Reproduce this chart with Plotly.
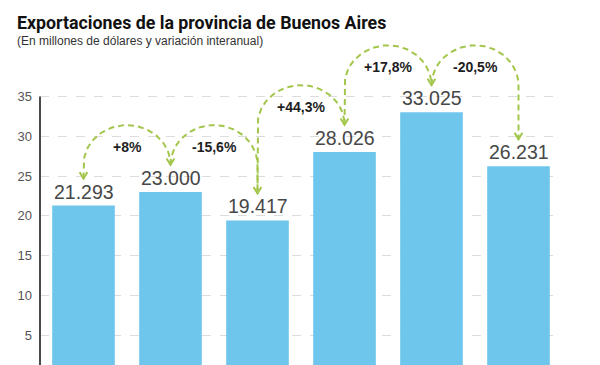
import plotly.graph_objects as go
import numpy as np

# ---- data ----
categories = ["2004", "2005", "2006", "2007", "2008", "2009"]
values = [21.293, 23.000, 19.417, 28.026, 33.025, 26.231]
value_labels = ["21.293", "23.000", "19.417", "28.026", "33.025", "26.231"]
change_labels = ["+8%", "-15,6%", "+44,3%", "+17,8%", "-20,5%"]
y_ticks = [5, 10, 15, 20, 25, 30, 35]

BAR = "#6fc6ec"
GREEN = "#a3c64c"
x = list(range(len(values)))

fig = go.Figure()
fig.add_trace(go.Bar(x=x, y=values, marker=dict(color=BAR, line=dict(width=0)),
                     width=0.72, hoverinfo="skip", showlegend=False))

# arc geometry derived from data
tip_off = 3.4
tips = [v + tip_off for v in values]
arc_rise = 5.0
for i in range(len(values) - 1):
    x0, x1 = x[i], x[i + 1]
    y0, y1 = tips[i], tips[i + 1]
    yt = max(y0, y1) + arc_rise
    ry = arc_rise
    yc = yt - ry
    xm = (x0 + x1) / 2
    rx = xm - x0
    t1 = np.linspace(np.pi, np.pi / 2, 30)
    t2 = np.linspace(np.pi / 2, 0, 30)
    xs = [x0] + list(xm + rx * np.cos(t1)) + list(xm + rx * np.cos(t2)) + [x1]
    ys = [y0] + list(yc + ry * np.sin(t1)) + list(yc + ry * np.sin(t2)) + [y1]
    fig.add_trace(go.Scatter(x=xs, y=ys, mode="lines", hoverinfo="skip", showlegend=False,
                             line=dict(color=GREEN, width=2, dash="6px,4px")))
    fig.add_annotation(x=xm, y=yt - 2.7, text="<b>%s</b>" % change_labels[i], showarrow=False,
                       font=dict(family="Liberation Sans, Arial", size=14, color="#1e1e1e"))

# arrowheads at each bar
adx, ady = 0.045, 0.8
for i in range(len(values)):
    fig.add_trace(go.Scatter(x=[x[i] - adx, x[i], x[i] + adx], y=[tips[i] + ady, tips[i], tips[i] + ady],
                             mode="lines", hoverinfo="skip", showlegend=False,
                             line=dict(color=GREEN, width=2)))
    fig.add_annotation(x=x[i], y=values[i], text=value_labels[i], showarrow=False,
                       yanchor="bottom", yshift=1,
                       font=dict(family="Liberation Sans, Arial", size=19.5, color="#474747"))

# y axis line (only up to 35)
fig.add_shape(type="line", xref="paper", yref="y", x0=0, x1=0, y0=0, y1=35,
              line=dict(color="#4a4a4a", width=2))

# page body has an 8px margin: figure coordinates = page coordinates - 8
OFF = 8
W, H = 600 - OFF, 365 - OFF
L, T, B = 40 - OFF, 40 - OFF, 0
R = W - (562 - OFF)
ph = H - T - B
pw = W - L - R

fig.add_annotation(xref="paper", yref="paper", x=(15 - OFF - L) / pw, y=1 + (T - (23 - OFF)) / ph,
                   xanchor="left", yanchor="middle", showarrow=False,
                   text="<b>Exportaciones de la provincia de Buenos Aires</b>",
                   font=dict(family="Roboto, Arial", size=17.8, color="#111"))
fig.add_annotation(xref="paper", yref="paper", x=(15 - OFF - L) / pw, y=1 + (T - (41 - OFF)) / ph,
                   xanchor="left", yanchor="middle", showarrow=False,
                   text="(En millones de dólares y variación interanual)",
                   font=dict(family="Liberation Sans, Arial", size=12, color="#333"))

y_bottom = 1.256
y_top = 42.1
fig.update_layout(
    width=W, height=H, margin=dict(l=L, r=R, t=T, b=B, autoexpand=False),
    plot_bgcolor="white", paper_bgcolor="white",
    bargap=0.28,
    xaxis=dict(range=[-0.5, 5.5], tickvals=x, ticktext=categories, showticklabels=False,
               showgrid=False, zeroline=False, showline=False, fixedrange=True, automargin=False),
    yaxis=dict(range=[y_bottom, y_top], tickvals=y_ticks, showgrid=True, gridcolor="#dcdcdc",
               griddash="dash", gridwidth=1, zeroline=False, showline=False,
               ticks="", ticklabelstandoff=7, automargin=False,
               tickfont=dict(family="Liberation Sans, Arial", size=13, color="#555")),
)
fig.write_html("out.html")
